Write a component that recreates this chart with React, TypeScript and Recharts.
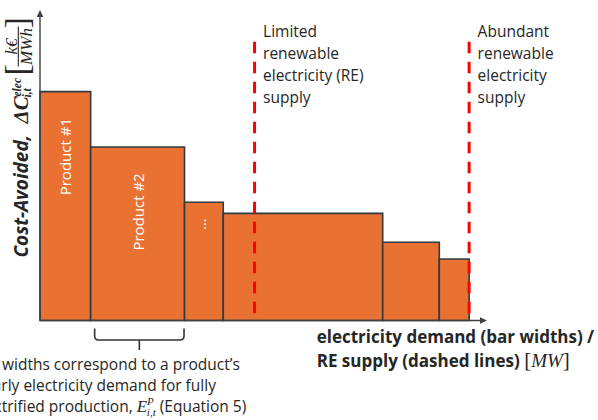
import { ComposedChart, XAxis, YAxis, ReferenceArea, ReferenceLine } from 'recharts'

// merit-order style curve: bar width = electricity demand, bar height = cost avoided
const products = ['Product #1', 'Product #2', '…', '', '', '']
const demandMW = [17, 31.5, 13, 53.5, 19, 10]
const costAvoided = [73.7, 55.9, 38.1, 34.5, 25.2, 19.8]

const supplyMW = [72, 144]
const supplyTop = 89.8
const supplyLabels = [
  ['Limited', 'renewable', 'electricity (RE)', 'supply'],
  ['Abundant', 'renewable', 'electricity', 'supply'],
]

const captionLines = ['Bar widths correspond to a product’s', 'hourly electricity demand for fully', 'electrified production, ']

const X_MAX = 150
const Y_MAX = 100

const FONT = '"Open Sans", "Noto Sans", sans-serif'
const MATH = '"Liberation Serif", "DejaVu Serif", serif'
const INK = '#262626'
const AXIS = '#404040'
const ORANGE = '#E97132'
const EDGE = '#2F3A44'
const BRACKET_INDEX = 1

const bars = products.map((name, i) => {
  const start = demandMW.slice(0, i).reduce((a, b) => a + b, 0)
  return { name, start, end: start + demandMW[i], cost: costAvoided[i] }
})

function BarLabel({ viewBox, text, index }: any) {
  const { x, y, width, height } = viewBox
  const cx = x + width / 2
  const dots = text === '…'
  const cy = y + (dots ? 22 : 65)
  const tx = dots ? cx - 4 : cx
  const base = y + height
  const left = x + 4
  const right = x + width - 0.5
  const mid = base + 19.5
  const r = 4
  return (
    <g>
      {text && (
        <text
          x={tx}
          y={cy}
          transform={`rotate(-90 ${tx} ${cy})`}
          textAnchor="middle"
          dominantBaseline="central"
          fill="#fff"
          fontFamily={FONT}
          fontSize={15}
        >
          {text}
        </text>
      )}
      {index === BRACKET_INDEX && (
        <g>
          <path
            d={`M${left},${base + 8} L${left},${mid - r} Q${left},${mid} ${left + r},${mid} L${right - r},${mid} Q${right},${mid} ${right},${mid - r} L${right},${base + 8} M${(left + right) / 2},${mid} L${(left + right) / 2},${mid + 10}`}
            fill="none"
            stroke="#333"
            strokeWidth={1.6}
          />
          <g fontFamily={FONT} fontSize={15.5} fill={INK}>
            <text x={-27} y={base + 49.5}>{captionLines[0]}</text>
            <text x={-27} y={base + 70.5}>{captionLines[1]}</text>
            <text x={-27} y={base + 91.5}>
              {captionLines[2]}
              <tspan fontFamily={MATH} fontStyle="italic" fontSize={17}>E</tspan>
              <tspan fontFamily={MATH} fontStyle="italic" fontSize={11} dy={-7}>P</tspan>
              <tspan fontFamily={MATH} fontStyle="italic" fontSize={11} dx={-7} dy={11}>i,t</tspan>
              <tspan dy={-4}> (Equation 5)</tspan>
            </text>
          </g>
        </g>
      )}
    </g>
  )
}

function SupplyLabel({ viewBox, lines }: any) {
  const { x, y } = viewBox
  return (
    <text fontFamily={FONT} fontSize={15.5} fill={INK}>
      {lines.map((l: string, i: number) => (
        <tspan key={i} x={x + 8.5} y={y - 4.4 + i * 21.8}>
          {l}
        </tspan>
      ))}
    </text>
  )
}

// axis line drawn from (x1,y1) to (x2,y2) with a filled arrow head at the far end
function ArrowAxis({ x1, y1, x2, y2 }: any) {
  const a = Math.atan2(y2 - y1, x2 - x1)
  const len = 7
  const half = 3.3
  const bx = x2 - len * Math.cos(a)
  const by = y2 - len * Math.sin(a)
  const px = -Math.sin(a) * half
  const py = Math.cos(a) * half
  return (
    <g>
      <line x1={x1} y1={y1} x2={bx} y2={by} stroke={AXIS} strokeWidth={1.4} />
      <path d={`M${x2},${y2} L${bx + px},${by + py} L${bx - px},${by - py} Z`} fill={AXIS} />
    </g>
  )
}

function XTitle({ viewBox }: any) {
  const x = viewBox.x + 276.7
  const y = viewBox.y + 22.2
  return (
    <g fontFamily={FONT} fontWeight={700} fontSize={17} fill={INK}>
      <text x={x} y={y}>electricity demand (bar widths) /</text>
      <text x={x} y={y + 24}>
        RE supply (dashed lines){' '}
        <tspan fontFamily={MATH} fontWeight={400} fontSize={21}>[</tspan>
        <tspan fontFamily={MATH} fontWeight={400} fontStyle="italic" fontSize={19}>MW</tspan>
        <tspan fontFamily={MATH} fontWeight={400} fontSize={21}>]</tspan>
      </text>
    </g>
  )
}

function YTitle() {
  return (
    <g transform="translate(28 257.5) rotate(-90)" fill={INK}>
      <text x={0} y={0} fontFamily={FONT} fontWeight={700} fontStyle="italic" fontSize={19}>
        Cost-Avoided,
      </text>
      <text x={134} y={0} fontFamily={MATH} fontWeight={700} fontStyle="italic" fontSize={21}>
        ΔC
      </text>
      <text x={161} y={-7.5} fontFamily={MATH} fontWeight={700} fontStyle="italic" fontSize={11.5}>
        elec
      </text>
      <text x={160} y={3} fontFamily={MATH} fontWeight={700} fontStyle="italic" fontSize={11.5}>
        i,t
      </text>
      <text x={182} y={0} fontFamily={MATH} fontSize={34}>[</text>
      <text x={211} y={-11} textAnchor="middle" fontFamily={MATH} fontStyle="italic" fontSize={17}>k€</text>
      <line x1={191} x2={231} y1={-9.7} y2={-9.7} stroke={INK} strokeWidth={1.1} />
      <text x={211} y={4} textAnchor="middle" fontFamily={MATH} fontStyle="italic" fontSize={17}>MWh</text>
      <text x={229} y={0} fontFamily={MATH} fontSize={34}>]</text>
    </g>
  )
}

export default function App() {
  return (
    <div style={{ position: 'absolute', left: 0, top: 0, width: 598, height: 420, background: '#fff', overflow: 'hidden' }}>
      <ComposedChart width={598} height={420} data={bars} margin={{ top: 10, right: 111, bottom: 98.5, left: 39 }}>
        <XAxis
          type="number"
          dataKey="start"
          domain={[0, X_MAX]}
          allowDataOverflow
          height={1}
          tick={false}
          tickLine={false}
          axisLine={false}
          label={(p: any) => <XTitle {...p} />}
        />
        <YAxis
          type="number"
          domain={[0, Y_MAX]}
          allowDataOverflow
          width={1}
          tick={false}
          tickLine={false}
          axisLine={false}
          label={() => <YTitle />}
        />
        {bars.map((b, i) => (
          <ReferenceArea
            key={i}
            x1={b.start}
            x2={b.end}
            y1={0}
            y2={b.cost}
            fill={ORANGE}
            fillOpacity={1}
            stroke={EDGE}
            strokeWidth={1.6}
            label={(p: any) => <BarLabel {...p} text={b.name} index={i} />}
          />
        ))}
        <ReferenceLine
          segment={[
            { x: 0, y: 0 },
            { x: 0, y: Y_MAX },
          ]}
          ifOverflow="visible"
          shape={(p: any) => <ArrowAxis {...p} />}
        />
        <ReferenceLine
          segment={[
            { x: 0, y: 0 },
            { x: X_MAX, y: 0 },
          ]}
          ifOverflow="visible"
          shape={(p: any) => <ArrowAxis {...p} />}
        />
        {supplyMW.map((s, i) => (
          <ReferenceLine
            key={i}
            segment={[
              { x: s, y: supplyTop },
              { x: s, y: 0 },
            ]}
            stroke="#FF0000"
            strokeWidth={3}
            strokeDasharray="11.7 8.3"
            label={(p: any) => <SupplyLabel {...p} lines={supplyLabels[i]} />}
          />
        ))}
      </ComposedChart>
    </div>
  )
}
